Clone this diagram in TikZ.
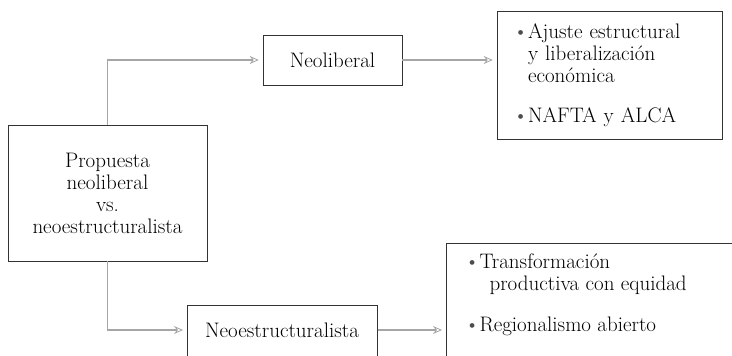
\documentclass[tikz,border=0pt]{standalone}
\usepackage{fontspec}
\usetikzlibrary{arrows.meta}
\newcommand{\bitem}{\makebox[15pt][l]{\color{black!70}\textbullet}}
\begin{document}
\begin{tikzpicture}[x=1pt,y=-1pt,
  box/.style={draw=black!80, line width=0.6pt, inner sep=0pt},
  txt/.style={font=\fontsize{21}{22}\selectfont, text=black},
  arr/.style={draw=black!35, line width=1.6pt, shorten >=4pt,
    -{Stealth[open, length=9pt, width=8pt, line width=0.8pt]}}]
\useasboundingbox (0,0) rectangle (732,356);
\clip (0,0) rectangle (732,356);
% main box
\node[box, txt, align=center, minimum width=199pt, minimum height=136pt] (main) at (107.5,193)
  {Propuesta\\neoliberal\\vs.\\neoestructuralista};
% Neoliberal
\node[box, txt, minimum width=139pt, minimum height=50pt] (neolib) at (332.5,60) {Neoliberal};
% right top box
\node[box, txt, align=left, text width=193pt, inner xsep=16pt, minimum height=128pt] (r1) at (609.5,75)
  {\bitem Ajuste estructural\\
   \hspace*{15pt}y liberalización\\
   \hspace*{15pt}económica\\[18pt]
   \bitem NAFTA y ALCA};
% Neoestructuralista (cut off at the bottom)
\node[box, minimum width=190pt, minimum height=70pt, anchor=north west] (neoe) at (187,305) {};
\node[txt] (neot) at (282,330) {Neoestructuralista};
% right bottom box (cut off)
\node[box, minimum width=330pt, minimum height=140pt, anchor=north west] (r2) at (446,243) {};
\node[txt, align=left, anchor=north west] (r2t) at (461,250)
  {\bitem Transformación\\
   \hspace*{25pt}productiva con equidad\\[19pt]
   \bitem Regionalismo abierto};
% connectors
\draw[arr] (main.north) |- (neolib.west);
\draw[arr] (neolib.east) -- (r1.west |- neolib.east);
\draw[arr] (main.south) |- (neoe.west |- neot);
\draw[arr] (neoe.east |- neot) -- (r2.west |- neot);
\end{tikzpicture}
\end{document}
